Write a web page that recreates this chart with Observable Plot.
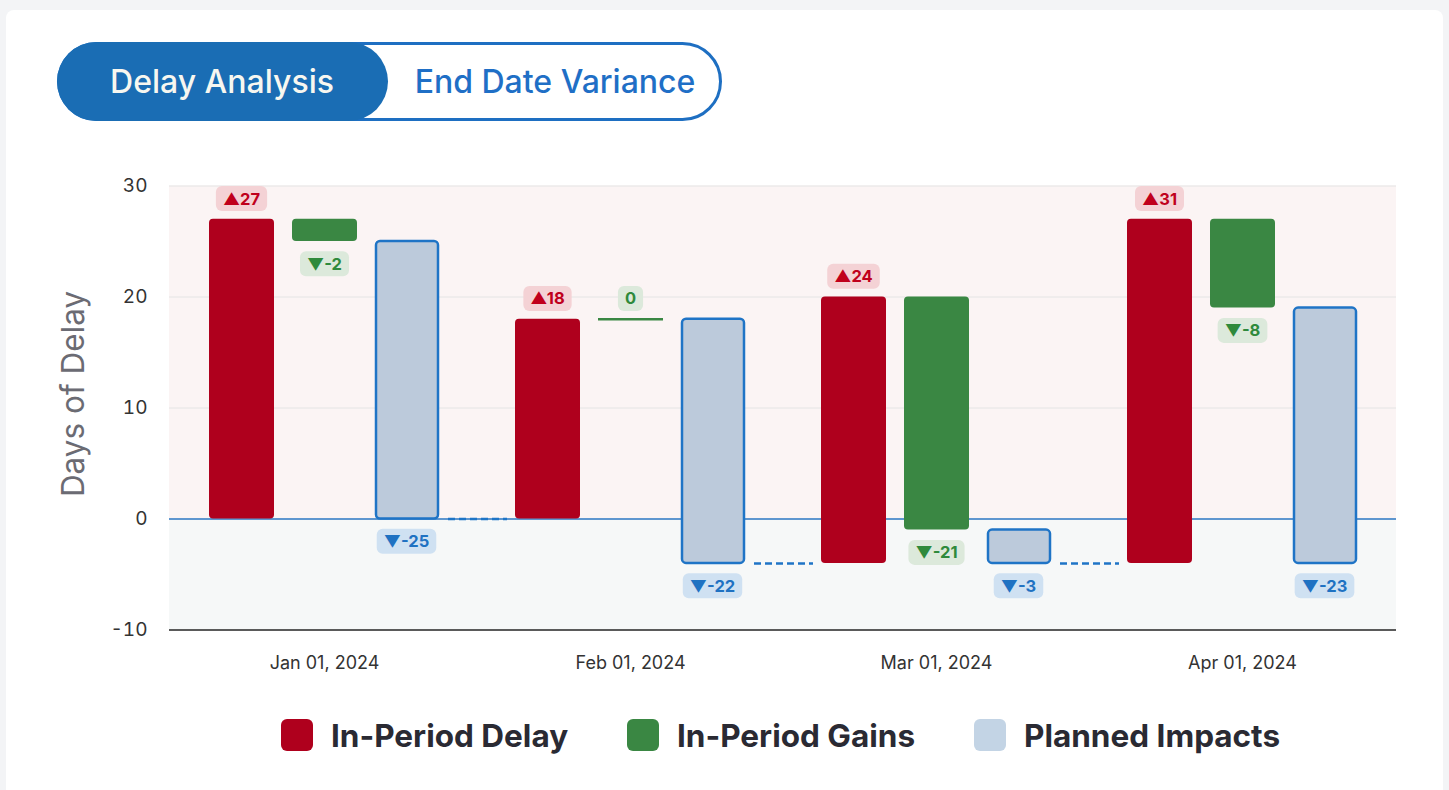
<!DOCTYPE html>
<html>
<head>
<meta charset="utf-8">
<script src="https://cdn.jsdelivr.net/npm/d3@7"></script>
<script src="https://cdn.jsdelivr.net/npm/@observablehq/plot@0.6"></script>
<style>
  html, body { margin: 0; padding: 0; }
  body { width: 1449px; height: 790px; overflow: hidden; position: relative; background: #f3f4f6; font-family: Inter, "Noto Sans", sans-serif; }
  #card { position: absolute; left: 6px; top: 10px; width: 1437px; height: 800px; background: #fff; border-radius: 8px; }
  #toggle { position: absolute; left: 57px; top: 42px; width: 665px; height: 79px; box-sizing: border-box; border: 3.5px solid #1e6fc2; border-radius: 40px; background: #fff; }
  #toggle .on { position: absolute; left: -3.5px; top: -3.5px; width: 331px; height: 79px; background: #1a6db4; border-radius: 40px; color: #f7f7f0; display: flex; align-items: center; justify-content: center; font-size: 32px; font-weight: 500; }
  #toggle .off { position: absolute; left: 328px; top: -3.5px; width: 334px; height: 79px; color: #1f6fc6; display: flex; align-items: center; justify-content: center; font-size: 32px; font-weight: 500; }
  #chart { position: absolute; left: 0; top: 150px; }
  #ylabel { position: absolute; left: 72px; top: 394px; transform: translate(-50%, -50%) rotate(-90deg); font-size: 31.5px; color: #6b6b73; white-space: nowrap; }
  #legend { position: absolute; left: 0; top: 716px; width: 1449px; height: 40px; }
  .item { position: absolute; top: 0; display: flex; align-items: center; height: 38px; }
  .sw { width: 32px; height: 32px; border-radius: 6px; margin-right: 18px; }
  .lt { font-size: 31.5px; font-weight: 700; color: #2a2a33; }
</style>
</head>
<body>
<div id="card"></div>
<div id="toggle"><div class="on">Delay Analysis</div><div class="off">End Date Variance</div></div>
<div id="ylabel">Days of Delay</div>
<div id="chart"></div>
<div id="legend"></div>
<script>
// ---- data ----
const months = ["Jan 01, 2024", "Feb 01, 2024", "Mar 01, 2024", "Apr 01, 2024"];
const series = ["In-Period Delay", "In-Period Gains", "Planned Impacts"];
const delay = [27, 18, 24, 31];
const gains = [-2, 0, -21, -8];
const planned = [-25, -22, -3, -23];
const yTicks = [-10, 0, 10, 20, 30];
const yDomain = [-10, 30];

// ---- styles ----
const barFill = {"In-Period Delay": "#af001d", "In-Period Gains": "#3a8743", "Planned Impacts": "#bccadb"};
const barStroke = {"Planned Impacts": "#1f74c6"};
const labelFill = {"In-Period Delay": "#c0001c", "In-Period Gains": "#2f8a3c", "Planned Impacts": "#1f72c2"};
const badgeFill = {"In-Period Delay": "#f4d2d5", "In-Period Gains": "#dce9db", "Planned Impacts": "#cfe1f2"};
const insets = {
  "In-Period Delay": {insetLeft: 38, insetRight: 203},
  "In-Period Gains": {insetLeft: 121, insetRight: 120},
  "Planned Impacts": {insetLeft: 205, insetRight: 39}
};
const labelDx = {"In-Period Delay": -83, "In-Period Gains": 0, "Planned Impacts": 82};

// ---- waterfall rows ----
const values = [delay, gains, planned];
const rows = [];
const ends = [];
let running = 0;
months.forEach((m, i) => {
  series.forEach((s, j) => {
    const v = values[j][i];
    rows.push({month: m, series: s, value: v, y1: running, y2: running + v,
      label: v > 0 ? "▲" + v : v < 0 ? "▼" + v : String(v)});
    running += v;
  });
  ends.push(running);
});
const connectors = months.slice(0, -1).map((m, i) => ({from: m, to: months[i + 1], y: ends[i]}));

const marks = [
  Plot.rectY([{y1: 0, y2: yDomain[1]}], {y1: "y1", y2: "y2", fill: "#fbf4f4"}),
  Plot.rectY([{y1: yDomain[0], y2: 0}], {y1: "y1", y2: "y2", fill: "#f6f8f8"}),
  Plot.gridY(yTicks.filter(t => t > 0), {stroke: "#e4e4e4", strokeOpacity: 1, strokeWidth: 1}),
  Plot.ruleY([yDomain[0]], {stroke: "#5a5a5a", strokeWidth: 2}),
  Plot.ruleY([0], {stroke: "#2b76c2", strokeWidth: 1.3}),
  Plot.ruleY(connectors, {x1: "from", x2: "to", y: "y", stroke: "#1f74c6", strokeWidth: 2.5, strokeDasharray: "7,4", insetLeft: 277, insetRight: 276})
];

series.forEach(s => {
  const data = rows.filter(d => d.series === s);
  marks.push(Plot.rectY(data.filter(d => d.value !== 0), {
    x: "month", y1: "y1", y2: "y2", fill: barFill[s],
    stroke: barStroke[s] || "none", strokeWidth: 2.5, rx: 4,
    ...insets[s]
  }));
  marks.push(Plot.ruleY(data.filter(d => d.value === 0), {
    x1: "month", x2: "month", y: "y2", stroke: barFill[s], strokeWidth: 2.5, ...insets[s]
  }));
  marks.push(Plot.text(data.filter(d => d.value >= 0), {
    x: "month", y: "y2", text: "label", dx: labelDx[s], dy: -20,
    fill: labelFill[s], fontSize: 16.5, fontWeight: 700, className: "badge-" + series.indexOf(s)
  }));
  marks.push(Plot.text(data.filter(d => d.value < 0), {
    x: "month", y: "y2", text: "label", dx: labelDx[s], dy: 23,
    fill: labelFill[s], fontSize: 16.5, fontWeight: 700, className: "badge-" + series.indexOf(s)
  }));
});

marks.push(Plot.axisY({ticks: yTicks, tickFormat: d => String(d), tickSize: 0, tickPadding: 22, fontSize: 19, fill: "#333", label: null}));
marks.push(Plot.axisX({tickSize: 0, tickPadding: 26, fontSize: 18, fill: "#333", label: null}));

const chart = Plot.plot({
  width: 1449,
  height: 560,
  marginLeft: 169,
  marginRight: 53,
  marginTop: 35.5,
  marginBottom: 80.5,
  style: {fontFamily: "Inter, 'Noto Sans', sans-serif", background: "transparent", overflow: "visible"},
  x: {type: "band", domain: months, padding: 0},
  y: {domain: yDomain},
  marks
});
document.getElementById("chart").appendChild(chart);

// badges behind labels
series.forEach((s, j) => {
  chart.querySelectorAll(".badge-" + j + " text").forEach(t => {
    const b = t.getBBox();
    const r = document.createElementNS("http://www.w3.org/2000/svg", "rect");
    r.setAttribute("x", b.x - 7);
    r.setAttribute("y", b.y - 2.5);
    r.setAttribute("width", b.width + 14);
    r.setAttribute("height", b.height + 5);
    r.setAttribute("rx", 6);
    r.setAttribute("fill", badgeFill[s]);
    if (t.getAttribute("transform")) r.setAttribute("transform", t.getAttribute("transform"));
    t.parentNode.insertBefore(r, t);
  });
});

// legend
const legend = document.getElementById("legend");
const legendLeft = [281, 627, 974];
series.forEach((s, i) => {
  const it = document.createElement("div");
  it.className = "item";
  it.style.left = legendLeft[i] + "px";
  const sw = document.createElement("div");
  sw.className = "sw";
  sw.style.background = i === 2 ? "#c3d4e5" : barFill[s];
  const lt = document.createElement("span");
  lt.className = "lt";
  lt.textContent = s;
  it.appendChild(sw); it.appendChild(lt);
  legend.appendChild(it);
});
</script>
</body>
</html>
